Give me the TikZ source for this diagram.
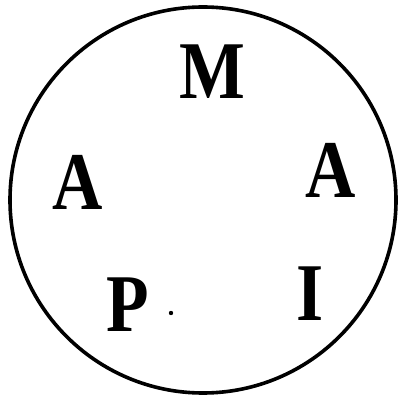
\documentclass[tikz,border=0pt]{standalone}
\usepackage{fontspec}
\setmainfont{Liberation Serif}
\usepackage{tikz}

\begin{document}
\begin{tikzpicture}[x=1pt,y=1pt]
\path[use as bounding box] (-203,-203) rectangle (194,200);
\draw[line width=3.6pt] (0,0) circle[radius=193];
\node[inner sep=0pt,xscale=.85,font=\bfseries\fontsize{82}{90}\selectfont] (m) at (9,128) {M};
\node[inner sep=0pt,xscale=.85,font=\bfseries\fontsize{82}{90}\selectfont] (aleft) at (-125,18) {A};
\node[inner sep=0pt,xscale=.85,font=\bfseries\fontsize{82}{90}\selectfont] (aright) at (128,30) {A};
\node[inner sep=0pt,xscale=.85,font=\bfseries\fontsize{82}{90}\selectfont] (p) at (-75,-105) {P};
\node[inner sep=0pt,xscale=.85,font=\bfseries\fontsize{82}{90}\selectfont] (i) at (107,-94) {I};
\fill (-32,-113) circle[radius=2.2];
\end{tikzpicture}
\end{document}
